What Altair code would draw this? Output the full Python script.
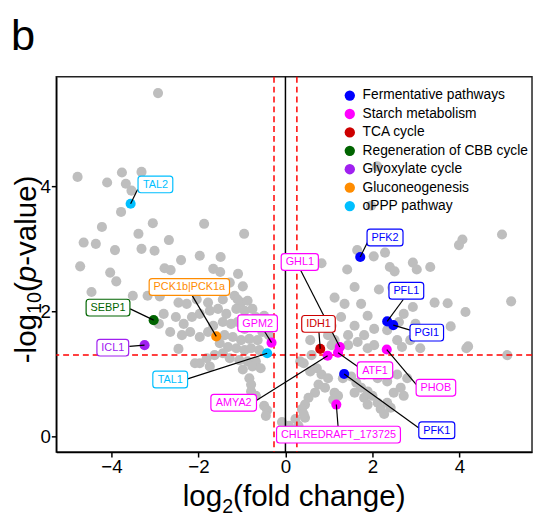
import altair as alt
import pandas as pd

FONT = "Liberation Sans"

# ---------------- data ----------------
categories = ["Fermentative pathways", "Starch metabolism", "TCA cycle",
              "Regeneration of CBB cycle", "Glyoxylate cycle", "Gluconeogenesis",
              "oPPP pathway"]
cat_colors = ["#0000FF", "#FF00FF", "#CD0000", "#006400", "#A020F0", "#FF8C00", "#00BFFF"]

gray_x = [
    -2.93, -4.78, -4.10, -3.76, -3.31, -3.67, -3.54, -3.78, -4.22, -3.05, -1.87, -3.38, -4.64,
    -4.36, -3.92, -3.31, -3.01, -2.68, -0.95, -4.72, -4.03, -3.89, -2.78, -2.64, -2.40, -1.97,
    -1.49, -1.66, -1.50, -1.09, -4.46, -3.51, -3.17, -2.89, -1.17, -1.28, -1.78,
    -2.80, -2.91, -2.52, -2.46, -2.27, -2.04, -1.78, -1.66, -1.44, -1.02, -0.87, -0.76, -0.68,
    -0.94, -1.13, -1.36, -1.55, -1.74, -1.97, -2.15, -2.34, -2.65, -2.38, -2.19, -1.97, -1.78,
    -1.66, -1.44, -1.25, -1.10, -0.94, -0.76, -0.60, -0.53, -0.64, -0.83, -1.02, -1.21, -1.40,
    -1.51, -1.32, -1.13, -0.94, -0.79, -0.60, -1.44, -1.63, -1.28, -1.06, -0.87, -0.68, -2.46,
    -2.08, -1.74, -1.81, -0.98, -0.76, -0.57, -0.83, -0.79, -0.79, -0.68, -0.49, -0.42, -0.45,
    -0.08, -0.04, -1.97, -0.38, -0.49, -0.98, -1.44, -2.04, -1.10,
    4.98, 4.07, 3.99, 2.11, 1.97, 2.03, 2.29, 1.65, 1.42, 2.40, 2.51, 2.93, 3.02, 3.33, 2.15,
    2.46, 1.59, 1.13, 1.36, 1.74, 1.89, 5.19, 4.14, 3.80, 3.73, 3.43, 2.93, 4.20, 4.16, 5.10,
    3.10, 2.34, 2.72, 2.61, 0.83, 1.28, 1.59, 2.04, 1.81, 1.44, 1.06, 0.98, 2.87, 2.99,
    0.57, 1.13, 1.44, 1.66, 1.89, 2.04, 2.57, 2.68, 0.42, 0.57, 0.72, 0.83, 0.98, 0.76, 0.91,
    0.68, 0.53, 0.45, 0.38, 0.45, 0.30, 0.23, 1.13, 1.21, 1.10, 1.32, 1.51, 1.63, 1.74, 1.89,
    1.59, 1.81, 2.00, 1.89, 2.12, 2.19, 2.34, 2.42, 2.27, 2.49, 2.65, 2.72, 2.57, 2.80, 2.34,
    2.12, 1.81, 0.23, 0.42, 0.08, 0.60, 0.34, 1.06,
]
gray_y = [
    5.49, 4.15, 4.06, 4.22, 4.23, 4.04, 3.93, 3.59, 3.35, 3.41, 3.40, 3.24, 3.10,
    3.08, 2.98, 3.00, 2.97, 3.14, 3.24, 2.72, 2.62, 2.48, 2.69, 2.66, 2.82, 2.89,
    2.87, 2.68, 2.63, 2.60, 2.31, 2.25, 2.25, 2.24, 2.25, 2.46, 2.35,
    1.96, 1.80, 1.91, 2.14, 2.12, 2.19, 2.14, 2.38, 2.19, 2.14, 2.17, 2.04, 1.91,
    2.01, 2.04, 1.96, 2.04, 2.01, 1.96, 1.91, 1.80, 1.67, 1.62, 1.67, 1.59, 1.67,
    1.77, 1.83, 1.80, 1.83, 1.72, 1.75, 1.83, 1.67, 1.54, 1.56, 1.54, 1.59, 1.62,
    1.49, 1.43, 1.41, 1.38, 1.41, 1.38, 1.33, 1.30, 1.25, 1.22, 1.20, 1.20, 1.40,
    1.17, 1.12, 1.25, 1.07, 1.12, 1.09, 0.93, 0.83, 0.72, 0.65, 0.49, 0.42, 0.33,
    0.23, 0.12, 1.17, 1.62, 1.93, 2.40, 2.40, 2.43, 2.19,
    3.23, 3.15, 3.06, 4.32, 3.69, 2.88, 2.94, 2.98, 2.67, 2.71, 2.64, 2.78, 2.67, 2.71, 2.35,
    2.38, 2.39, 2.22, 2.12, 2.12, 1.93, 2.16, 1.99, 1.76, 2.13, 2.14, 2.07, 1.44, 1.41, 1.30,
    1.41, 1.70, 1.96, 1.83, 2.77, 1.91, 1.77, 1.72, 1.62, 1.62, 1.77, 1.62, 1.54, 1.80,
    1.54, 1.54, 1.46, 1.51, 1.41, 1.46, 1.54, 1.43, 1.17, 1.04, 1.09, 0.99, 0.93, 0.83, 0.78,
    0.70, 0.62, 0.51, 0.44, 0.30, 0.17, 0.07, 0.70, 0.65, 0.59, 0.93, 0.96, 0.86, 0.78, 0.72,
    0.70, 0.62, 0.65, 0.51, 0.54, 0.44, 0.54, 0.46, 0.36, 0.70, 0.78, 0.65, 0.99, 0.93, 0.88,
    0.93, 0.99, 0.28, 0.36, 0.17, 1.30, 1.20, 1.46,
]

gene_names = ["TAL2", "SEBP1", "ICL1", "PCK1b|PCK1a", "GPM2", "TAL1", "AMYA2", "GHL1",
              "IDH1", "ATF1", "PHOB", "PFK1", "CHLREDRAFT_173725", "PFK2", "PFL1", "PGI1"]
gene_cat = ["oPPP pathway", "Regeneration of CBB cycle", "Glyoxylate cycle", "Gluconeogenesis",
            "Starch metabolism", "oPPP pathway", "Starch metabolism", "Starch metabolism",
            "TCA cycle", "Starch metabolism", "Starch metabolism", "Fermentative pathways",
            "Starch metabolism", "Fermentative pathways", "Fermentative pathways",
            "Fermentative pathways"]
gene_x = [-3.56, -3.03, -3.24, -1.59, -0.32, -0.42, 0.97, 1.25, 0.80, 1.21, 2.33, 1.35, 1.17, 1.72, 2.34, 2.48]
gene_y = [3.72, 1.86, 1.46, 1.60, 1.50, 1.33, 1.29, 1.43, 1.40, 1.34, 1.39, 1.00, 0.51, 2.87, 1.84, 1.78]
label_x = [-2.99, -4.08, -3.97, -2.21, -0.64, -2.65, -1.19, 0.33, 0.76, 2.06, 3.46, 3.48, 1.22, 2.29, 2.78, 3.25]
label_y = [4.03, 2.06, 1.42, 2.39, 1.81, 0.91, 0.54, 2.79, 1.80, 1.06, 0.78, 0.10, 0.03, 3.18, 2.33, 1.66]
anchor_x = [-3.40, -3.57, -3.59, -2.15, -0.49, -2.25, -0.68, 0.34, 0.77, 1.66, 3.01, 3.06, 1.21, 1.89, 2.71, 2.87]
anchor_y = [3.95, 2.04, 1.44, 2.26, 1.69, 0.92, 0.57, 2.67, 1.67, 1.12, 0.83, 0.14, 0.16, 3.11, 2.19, 1.70]

fc_cut = [-0.263, 0.263]
p_cut = [1.30103]
zero_line = [0]

x_ticks = [-4, -2, 0, 2, 4]
y_ticks = [0, 2, 4]
x_domain = [-5.27, 5.67]
y_domain = [-0.25, 5.75]

# ---------------- layout ----------------
W, H = 483, 381
px_x = W / (x_domain[1] - x_domain[0])
px_y = H / (y_domain[1] - y_domain[0])

AW = {'T': .611, 'A': .667, 'L': .556, 'S': .667, 'E': .667, 'B': .667, 'P': .667, 'I': .278,
      'C': .722, 'K': .667, 'b': .556, '|': .26, 'a': .556, 'G': .778, 'M': .833, 'Y': .667,
      'D': .722, 'H': .722, 'R': .722, 'F': .611, 'O': .778, '_': .556, 'X': .667, 'N': .722,
      'l': .222, 'o': .556, 'g': .556, '(': .333, ')': .333, 'f': .278, 'd': .556, ' ': .278,
      'c': .5, 'h': .556, 'n': .556, 'e': .556, '-': .333, 'p': .556, 'v': .5, 'u': .556}


def text_w(s, size):
    return sum(AW.get(ch, .556) for ch in s) * size


gray = pd.DataFrame({"x": gray_x, "y": gray_y})
genes = pd.DataFrame({"name": gene_names, "cat": gene_cat, "x": gene_x, "y": gene_y,
                      "lx": label_x, "ly": label_y, "ax": anchor_x, "ay": anchor_y})
hw = [(text_w(n, 11) / 2 + 4.5) / px_x for n in gene_names]
hh = 8.5 / px_y
genes["bx1"] = genes["lx"] - hw
genes["bx2"] = genes["lx"] + hw
genes["by1"] = genes["ly"] - hh
genes["by2"] = genes["ly"] + hh

xs = alt.Scale(domain=x_domain, nice=False, zero=False)
ys = alt.Scale(domain=y_domain, nice=False, zero=False)
xax = alt.Axis(values=x_ticks, title=None, grid=False)
yax = alt.Axis(values=y_ticks, title=None, grid=False)
cscale = alt.Scale(domain=categories, range=cat_colors)


def X(f):
    return alt.X(f, type="quantitative", scale=xs, axis=xax)


def Y(f):
    return alt.Y(f, type="quantitative", scale=ys, axis=yax)


gray_layer = alt.Chart(gray).mark_circle(size=105, color="#BEBEBE", opacity=1).encode(
    x=X("x"), y=Y("y"))

vlines = alt.Chart(pd.DataFrame({"x": fc_cut})).mark_rule(
    color="#FF0000", strokeDash=[6, 4], strokeWidth=1.5).encode(x=X("x"))
hline = alt.Chart(pd.DataFrame({"y": p_cut})).mark_rule(
    color="#FF0000", strokeDash=[6, 4], strokeWidth=1.5).encode(y=Y("y"))
zline = alt.Chart(pd.DataFrame({"x": zero_line})).mark_rule(
    color="black", strokeWidth=1.5).encode(x=X("x"))

color_pts = alt.Chart(genes).mark_circle(size=105, opacity=1).encode(
    x=X("x"), y=Y("y"),
    color=alt.Color("cat:N", scale=cscale, legend=alt.Legend(
        title=None, orient="none", legendX=291, legendY=12, labelFontSize=14,
        labelFont=FONT, labelColor="black", symbolType="circle", symbolSize=110,
        symbolStrokeWidth=0, rowPadding=4.7, labelOffset=6, padding=0, labelLimit=0)))

leaders = alt.Chart(genes).mark_rule(color="black", strokeWidth=1.2).encode(
    x=X("x"), y=Y("y"), x2="ax:Q", y2="ay:Q")

boxes = alt.Chart(genes).mark_rect(fill="white", strokeWidth=1.2, cornerRadius=3).encode(
    x=X("bx1"), x2="bx2:Q", y=Y("by1"), y2="by2:Q",
    stroke=alt.Stroke("cat:N", scale=cscale, legend=None))

texts = alt.Chart(genes).mark_text(fontSize=11, font=FONT, baseline="middle", dy=0.5).encode(
    x=X("lx"), y=Y("ly"), text="name:N",
    fill=alt.Fill("cat:N", scale=cscale, legend=None))

dummy = pd.DataFrame({"k": [0]})


def piece(txt, x, y, size, angle=0, style="normal"):
    return alt.Chart(dummy).mark_text(
        text=txt, fontSize=size, font=FONT, align="left", baseline="alphabetic",
        angle=angle, fontStyle=style, color="black").encode(x=alt.value(x), y=alt.value(y))


# x title: log2(fold change)
TF, SF = 30, 20
xt_parts = [("log", TF), ("2", SF), ("(fold change)", TF)]
tot = sum(text_w(t, s) for t, s in xt_parts)
cx = W / 2 - tot / 2
x_title = []
for t, s in xt_parts:
    x_title.append(piece(t, cx, 436 + (7 if s == SF else 0), s))
    cx += text_w(t, s)

# y title: -log10(p-value)
YF, YS = 30, 20
yt_parts = [("-log", YF, "normal"), ("10", YS, "normal"), ("(", YF, "normal"),
            ("p", YF, "italic"), ("-value)", YF, "normal")]
tot = sum(text_w(t, s) for t, s, _ in yt_parts)
cy = H / 2 + tot / 2 + 5
y_title = []
for t, s, st in yt_parts:
    y_title.append(piece(t, -21 + (5 if s == YS else 0), cy, s, angle=270, style=st))
    cy -= text_w(t, s)

panel = piece("b", -46, -27, 44)

chart = alt.layer(
    gray_layer, vlines, hline, zline, color_pts, leaders, boxes, texts,
    *x_title, *y_title, panel
).properties(
    width=W, height=H,
    padding={"left": 49, "top": 66, "right": 1, "bottom": 62},
    autosize=alt.AutoSizeParams(type="none"),
).configure_view(
    stroke="#222222", strokeWidth=1.5
).configure_axis(
    labelFont=FONT, labelFontSize=19, labelColor="black", tickColor="black",
    domainColor="black", domainWidth=1.5, tickWidth=1.5, tickSize=5, labelPadding=1,
    grid=False
)

chart.save("out.html", embed_options={"renderer": "svg", "actions": False})
